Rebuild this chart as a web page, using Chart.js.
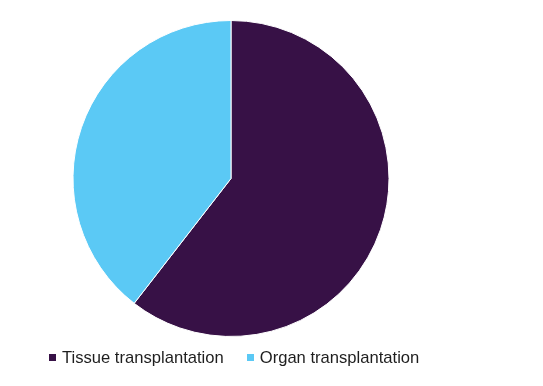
<!DOCTYPE html>
<html>
<head>
<meta charset="utf-8">
<script src="https://cdn.jsdelivr.net/npm/chart.js@4"></script>
<style>
  html, body { margin: 0; padding: 0; background: #fff; }
  #wrap { width: 543px; height: 386px; position: relative; }
  #chart-box { position: absolute; left: 0; top: 0; width: 543px; height: 386px; }
  #legend {
    position: absolute; left: 49px; top: 348px;
    display: flex; white-space: nowrap;
    font-family: "Liberation Sans", Arial, sans-serif; font-size: 16.6px; line-height: 20px;
    color: #1e1e1e;
  }
  .item { display: flex; align-items: flex-start; margin-right: 23px; }
  .swatch { width: 7px; height: 7px; margin-top: 6px; margin-right: 6px; }
</style>
</head>
<body>
<div id="wrap">
  <div id="chart-box"><canvas id="chart"></canvas></div>
  <div id="legend"></div>
</div>
<script>
// ── Data ──────────────────────────────────────────────────────────────────────
const categories = ["Tissue transplantation", "Organ transplantation"];
const shares = [60.5, 39.5];
const colors = ["#371146", "#5BC9F5"];

// ── Chart ─────────────────────────────────────────────────────────────────────
new Chart(document.getElementById("chart"), {
    type: "pie",
    data: {
        labels: categories,
        datasets: [{
            data: shares,
            backgroundColor: colors,
            borderColor: "#ffffff",
            borderWidth: 1,
        }]
    },
    options: {
        responsive: true,
        maintainAspectRatio: false,
        animation: false,
        layout: { padding: { top: 20, left: 0, right: 81, bottom: 49 } },
        plugins: {
            tooltip: { enabled: false },
            legend: { display: false },
        }
    }
});

// ── Legend (HTML, so spacing can follow the reference) ────────────────────────
const legendEl = document.getElementById("legend");
categories.forEach((name, i) => {
    const item = document.createElement("div");
    item.className = "item";
    const sw = document.createElement("span");
    sw.className = "swatch";
    sw.style.background = colors[i];
    const label = document.createElement("span");
    label.textContent = name;
    item.appendChild(sw);
    item.appendChild(label);
    legendEl.appendChild(item);
});
</script>
</body>
</html>
